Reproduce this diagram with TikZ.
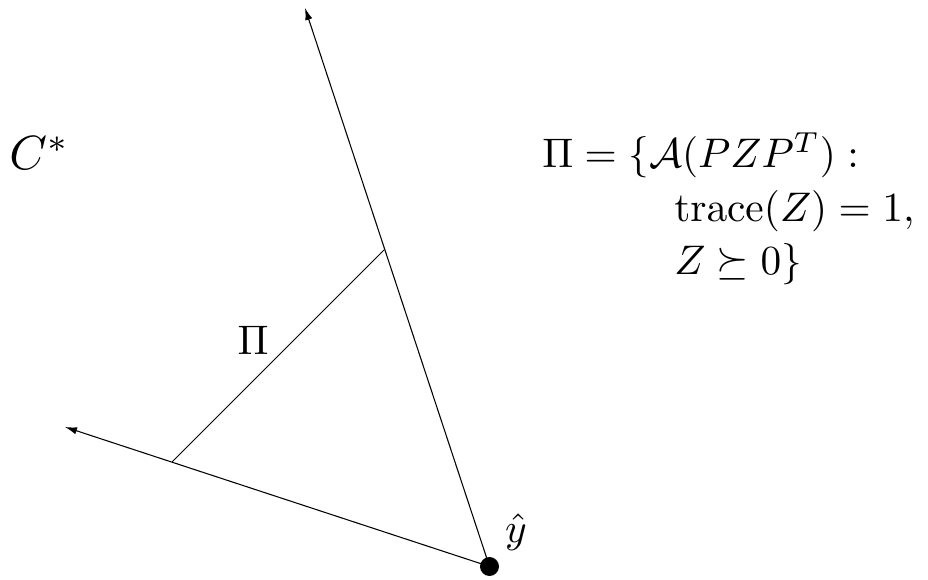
\documentclass[tikz,border=0pt]{standalone}
\usepackage{amsmath,amssymb}
\usetikzlibrary{arrows.meta}
\newcommand{\sbx}[1]{\scalebox{3.1}{#1}}
\begin{document}
\begin{tikzpicture}[x=0.75pt,y=-0.75pt,
  ray/.style={line width=0.8pt,-{Latex[length=9pt,width=5.5pt]}},
  seg/.style={line width=0.7pt},
  lbl/.style={inner sep=0pt,font=\fontsize{10}{12}\selectfont}]
\useasboundingbox (0,0) rectangle (928,580);
\coordinate (y) at (489.5,566.5);
\coordinate (top) at (305,8);
\coordinate (left) at (65,427);
\coordinate (a) at (384,250);
\coordinate (b) at (172,462);
\draw[ray] (y) -- (top);
\draw[ray] (y) -- (left);
\draw[seg] (a) -- (b);
\fill (y) circle (7.1pt);
\node[lbl] (pi) at (253,340) {\sbx{$\Pi$}};
\node[lbl,anchor=base west] (cs) at (9,170) {\scalebox{3.6}{$C^*$}};
\node[lbl] (yh) at (516,532) {\sbx{$\hat{y}$}};
\node[lbl,anchor=base west] (l1) at (542,168) {\sbx{$\Pi=\{\mathcal{A}(PZP^T):$}};
\node[lbl,anchor=base west] (l2) at (674,222) {\sbx{$\operatorname{trace}(Z)=1,$}};
\node[lbl,anchor=base west] (l3) at (674,275) {\sbx{$Z\succeq 0\}$}};
\end{tikzpicture}
\end{document}
